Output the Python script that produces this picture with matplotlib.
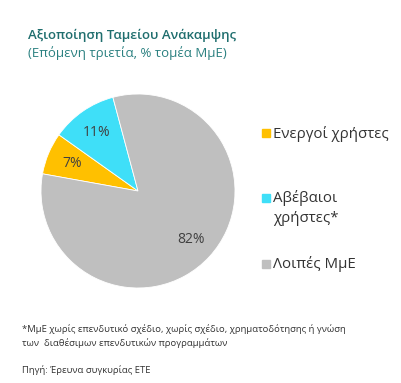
import matplotlib.pyplot as plt
from matplotlib.patches import Rectangle

plt.rcParams['font.family'] = ['Open Sans', 'DejaVu Sans']

labels = ['Ενεργοί χρήστες', 'Αβέβαιοι\nχρήστες*', 'Λοιπές ΜμΕ']
values = [7, 11, 82]
colors = ['#FFC000', '#3FDFF8', '#BFBFBF']

title = 'Αξιοποίηση Ταμείου Ανάκαμψης'
subtitle = '(Επόμενη τριετία, % τομέα ΜμΕ)'
footnote = ('*ΜμΕ χωρίς επενδυτικό σχέδιο, χωρίς σχέδιο, χρηματοδότησης ή γνώση\n'
            'των  διαθέσιμων επενδυτικών προγραμμάτων')
source = 'Πηγή: Έρευνα συγκυρίας ΕΤΕ'

W, H = 402, 383
fig = plt.figure(figsize=(W / 100, H / 100), dpi=100)
fig.patch.set_facecolor('white')

# pie centre (138,191) px, radius ~97 px
cx, cy, r = 138 / W, 1 - 191 / H, 97
ax = fig.add_axes([cx - r / W, cy - r / H, 2 * r / W, 2 * r / H])
wedges, texts, autotexts = ax.pie(values, colors=colors, startangle=169.8, counterclock=False,
                                  autopct='%d%%', pctdistance=0.74,
                                  wedgeprops=dict(edgecolor='white', linewidth=0.6),
                                  textprops=dict(fontsize=10, color='#404040'))
ax.set_xlim(-1, 1)
ax.set_ylim(-1, 1)
ax.set_aspect('auto')
ax.axis('off')

fig.text(28 / W, 1 - 35 / H, title, fontsize=9.5, fontweight='semibold', color='#1F6E6E', va='center')
fig.text(28 / W, 1 - 53 / H, subtitle, fontsize=9.5, color='#2A8080', va='center')

# legend
leg_y = [133, 198, 264]
for lab, col, y in zip(labels, colors, leg_y):
    fig.add_artist(Rectangle((262 / W, 1 - (y + 4) / H), 8 / W, 8 / H, color=col,
                             transform=fig.transFigure))
    fig.text(273 / W, 1 - (y - 7.5) / H, lab, fontsize=10.8, color='#333333', va='top',
             linespacing=1.4)

fig.text(22 / W, 1 - 336 / H, footnote, fontsize=6.8, color='#333333', va='center', linespacing=1.45)
fig.text(22 / W, 1 - 370 / H, source, fontsize=6.8, color='#333333', va='center')

fig.savefig('out.png', dpi=100, facecolor='white')
